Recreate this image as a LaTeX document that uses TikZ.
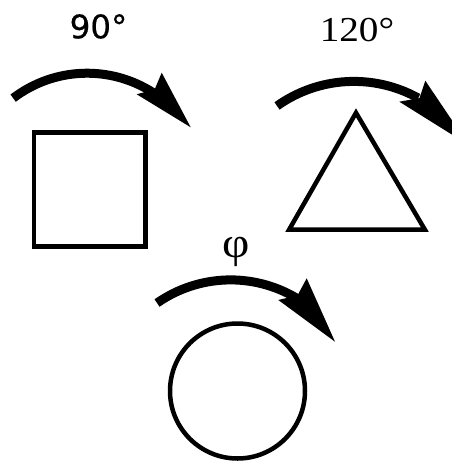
\documentclass[tikz,border=0pt]{standalone}
\usepackage{fontspec}
\setmainfont{Liberation Serif}
\newfontfamily\labelsans[FakeBold=0.5]{DejaVu Sans}
\begin{document}
\begin{tikzpicture}[x=1pt,y=-1pt,
  shaft/.style={line width=9pt},
  arrowhead/.style={fill=black},
  outline/.style={line width=4.5pt},
  lbl/.style={inner sep=0pt, anchor=base}]
\useasboundingbox (0,0) rectangle (452,461);
\clip (0,0) rectangle (452,461);
% arrow over the square
\draw[shaft] (87.08,195.2) ++(-127.3:122) arc[start angle=-127.3, end angle=-57, radius=122];
\fill[arrowhead] (161.7,72.7) -- (190.7,127.3) -- (136.7,94.3) -- (154.7,89.3) -- cycle;
% arrow over the triangle
\draw[shaft] (353.9,214.1) ++(-125.4:132.7) arc[start angle=-125.4, end angle=-61, radius=132.7];
\fill[arrowhead] (425.3,80.7) -- (468.6,145) -- (399.3,101.7) -- (419.5,98.1) -- cycle;
% arrow over the circle
\draw[shaft] (230.6,408.5) ++(-124.9:128.6) arc[start angle=-124.9, end angle=-59, radius=128.6];
\fill[arrowhead] (306.7,278.3) -- (335,341.7) -- (278.3,300) -- (297.5,295.4) -- cycle;
% shapes
\draw[outline] (33.8,132.5) rectangle (145.5,246.3);
\draw[outline] (356,112.8) -- (424.8,229.5) -- (289.2,229.5) -- cycle;
\draw[outline] (237.5,391) circle[radius=67.5];
% labels
\node[lbl, font=\labelsans\fontsize{32.5}{38}\selectfont] (l90) at (98.5,38.3) {90°};
\node[lbl, xscale=1.12, font=\rmfamily\fontsize{35}{40}\selectfont] (l120) at (357,41) {120°};
\node[lbl, xscale=1.1, font=\rmfamily\fontsize{43}{48}\selectfont] (lphi) at (236.5,257.5) {φ};
\end{tikzpicture}
\end{document}
